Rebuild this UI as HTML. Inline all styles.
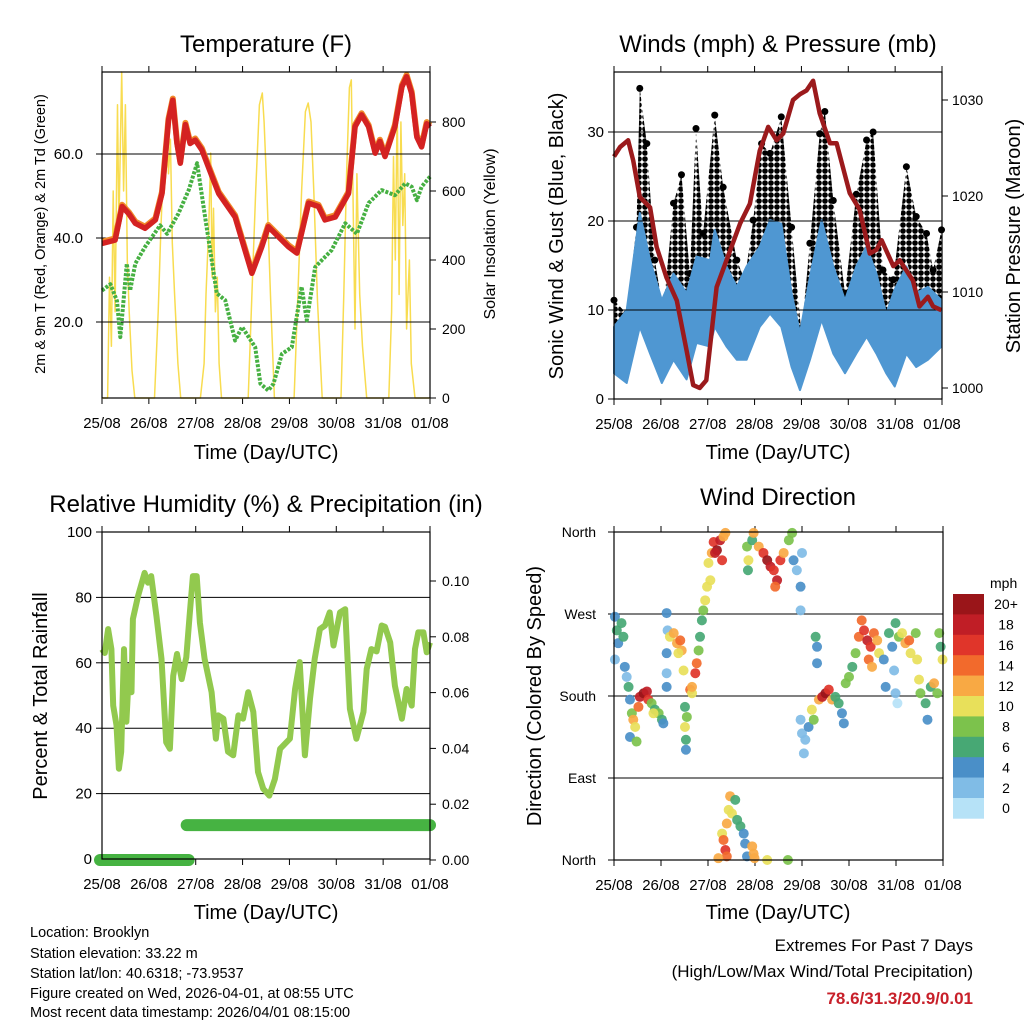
<!DOCTYPE html>
<html><head><meta charset="utf-8">
<style>
html,body{margin:0;padding:0;background:#fff;}
svg{display:block;font-family:"Liberation Sans",sans-serif;}
</style></head>
<body>
<svg id="c" width="1024" height="1024" viewBox="0 0 1024 1024">
<defs>
<pattern id="gustdots" width="6" height="6" patternUnits="userSpaceOnUse"><circle cx="3" cy="3" r="2.8" fill="#000"/></pattern>
</defs>
<g font-size="24" text-anchor="middle" fill="#000">
<text x="266" y="52">Temperature (F)</text>
<text x="778" y="52">Winds (mph) &amp; Pressure (mb)</text>
<text x="266" y="512">Relative Humidity (%) &amp; Precipitation (in)</text>
<text x="778" y="505">Wind Direction</text>
</g>
<g font-size="20" text-anchor="middle">
<text x="266" y="459">Time (Day/UTC)</text>
<text x="778" y="459">Time (Day/UTC)</text>
<text x="266" y="919">Time (Day/UTC)</text>
<text x="778" y="919">Time (Day/UTC)</text>
<text transform="translate(40,234) rotate(-90)" dy="5" font-size="14.5">2m &amp; 9m T (Red, Orange) &amp; 2m Td (Green)</text>
<text transform="translate(490,234) rotate(-90)" dy="5" font-size="16">Solar Insolation (Yellow)</text>
<text transform="translate(556,236) rotate(-90)" dy="7">Sonic Wind &amp; Gust (Blue, Black)</text>
<text transform="translate(1013,236) rotate(-90)" dy="7">Station Pressure (Maroon)</text>
<text transform="translate(40,696) rotate(-90)" dy="7">Percent &amp; Total Rainfall</text>
<text transform="translate(534,696) rotate(-90)" dy="7">Direction (Colored By Speed)</text>
</g>
<g font-size="14.5" fill="#000">
<text x="30" y="937">Location: Brooklyn</text>
<text x="30" y="958">Station elevation: 33.22 m</text>
<text x="30" y="978">Station lat/lon: 40.6318; -73.9537</text>
<text x="30" y="998">Figure created on Wed, 2026-04-01, at 08:55 UTC</text>
<text x="30" y="1017">Most recent data timestamp: 2026/04/01 08:15:00</text>
</g>
<g font-size="17" text-anchor="end">
<text x="973" y="951">Extremes For Past 7 Days</text>
<text x="973" y="977">(High/Low/Max Wind/Total Precipitation)</text>
<text x="973" y="1004" font-weight="bold" fill="#c8202a">78.6/31.3/20.9/0.01</text>
</g>
</svg>
<script>
// ---- Temperature panel data ----
const tempT=[0,0.28,0.43,0.57,0.71,0.92,1.14,1.28,1.42,1.51,1.6,1.67,1.78,1.88,1.99,2.13,2.35,2.49,2.84,3.2,3.41,3.55,3.98,4.16,4.41,4.62,4.76,4.98,5.26,5.4,5.54,5.69,5.83,5.93,6.04,6.25,6.4,6.5,6.61,6.72,6.82,6.93,7.0];
const tempV=[38.7,39.5,47.5,45.8,43.5,42.3,44.3,50.6,68,72.8,62.5,57.8,67,62.5,63.3,61,54.6,50.6,45,31.6,37.9,42.7,37.9,36.4,48.3,47.5,44.3,45,50.6,66.5,69.3,66.5,60.2,63,59.4,66.5,76,78.4,74.4,64,61.7,67.2,66.4];
const dewT=[0,0.18,0.32,0.39,0.53,0.6,0.71,0.92,1.24,1.39,1.63,1.85,2.03,2.2,2.45,2.63,2.84,2.99,3.13,3.27,3.38,3.55,3.66,3.84,4.05,4.26,4.37,4.55,4.9,5.19,5.44,5.69,5.97,6.25,6.47,6.61,6.72,6.82,7.0];
const dewV=[27.5,29,25,16.4,33.9,27.5,33.9,37.9,43,41,45.8,51.4,57.8,45,26.8,25.2,15.6,18.8,16.4,14,5.3,3.7,5.3,12.4,14,28.4,20.4,33.1,37.1,43.5,41,48.3,51.4,50.2,53,52.2,49,52.2,54.6];
const solarT=[0,0.12,0.16,0.2,0.24,0.28,0.33,0.36,0.42,0.46,0.5,0.54,0.58,0.64,0.7,1.12,1.2,1.26,1.32,1.38,1.42,1.46,1.5,1.55,1.62,1.68,2.1,2.18,2.22,2.28,2.32,2.35,2.38,2.42,2.46,2.5,2.55,3.12,3.2,3.28,3.36,3.42,3.46,3.52,3.6,3.68,4.1,4.18,4.26,4.34,4.4,4.46,4.52,4.6,4.7,5.1,5.16,5.22,5.28,5.32,5.36,5.4,5.44,5.5,5.56,5.65,6.12,6.18,6.22,6.26,6.3,6.34,6.38,6.42,6.46,6.5,6.56,6.6,6.68,7.0];
const solarV=[0,0,350,150,600,250,850,500,945,600,850,400,250,80,0,0,250,500,700,806,650,750,450,300,100,0,0,100,300,500,710,350,550,250,350,100,0,0,300,600,850,884,800,600,280,0,0,300,600,830,855,800,600,280,0,0,300,650,900,922,550,200,650,300,150,0,0,250,700,400,850,300,800,500,650,200,400,100,0,0];
const tempTicks=[20,40,60];
const solarTicks=[0,200,400,600,800];
const dayLabels=["25/08","26/08","27/08","28/08","29/08","30/08","31/08","01/08"];
// ---- Winds panel data ----
const windT=[0,0.27,0.55,0.77,1.02,1.27,1.55,1.76,2.05,2.15,2.4,2.62,2.83,3.11,3.33,3.57,3.79,3.97,4.18,4.43,4.68,4.93,5.17,5.39,5.6,5.81,5.99,6.24,6.45,6.7,6.99];
const windLow=[2.9,1.8,8.1,5.1,1.8,4.4,2.2,6.3,5.9,8.1,5.9,4.4,4.4,8.1,9.6,8.1,3.6,1,4.4,8.9,5.1,2.9,5.1,7,5.1,2.9,1.4,5.1,3.6,4.4,5.9];
const windHigh=[8.1,10,20.9,15.6,11.1,14.1,11.9,16,15.6,19,14.9,12.6,14.9,17.1,20.1,19.7,11.9,7.4,13.7,20.1,14.9,11.1,14.9,17.1,14.1,9.6,12.3,14.9,11.9,12.6,11.1];
const gustT=[0,0.27,0.48,0.55,0.7,0.87,1.05,1.27,1.44,1.62,1.75,1.9,2.15,2.33,2.62,2.79,2.97,3.15,3.33,3.57,3.79,4.0,4.18,4.39,4.5,4.68,4.93,5.17,5.39,5.53,5.74,5.96,6.24,6.45,6.67,6.81,6.99];
const gustLow=[5.1,5.9,11.9,15.6,11.9,8.1,5.1,9.6,10.7,7.4,14.1,9.6,15.6,11.9,8.5,7.4,11.9,15.6,17.1,15.6,8.5,3.6,8.5,17.1,15.6,11.9,7.4,11.9,14.1,13.4,7,7,15.6,11.9,9.6,8.1,8.5];
const gustHigh=[11.1,9.6,19.3,34.9,28.7,15.6,10,22,25.2,14.1,30.4,18.6,31.9,23.8,15.6,13.4,20.1,28.7,27.6,31.7,19.3,7.4,17.5,29.8,32.3,22.3,11.9,23,29.1,30,14.5,13.4,26.1,20.5,18.6,14.5,19];
const presT=[0,0.13,0.3,0.41,0.55,0.77,0.91,1.12,1.34,1.55,1.69,1.83,1.97,2.19,2.4,2.69,2.9,3.11,3.29,3.47,3.61,3.82,3.97,4.11,4.25,4.39,4.61,4.75,5.03,5.24,5.46,5.6,5.71,5.96,6.1,6.38,6.52,6.7,6.81,6.99];
const presV=[1024.1,1025.1,1025.8,1023.7,1019.9,1018.8,1014.7,1011.5,1009.1,1003.9,1000.3,1000,1000.8,1010.5,1013.3,1017.1,1019.2,1024.7,1027.2,1025.8,1026.5,1030,1030.6,1031,1032,1028.6,1025.5,1025.5,1020.3,1018.6,1014,1014.4,1015.4,1012.7,1013.3,1011.2,1008.5,1009.5,1008.5,1008.1];
const windTicks=[0,10,20,30];
const presTicks=[1000,1010,1020,1030];
// ---- RH panel data ----
const rhT=[0,0.06,0.13,0.2,0.24,0.31,0.36,0.41,0.47,0.52,0.58,0.63,0.66,0.77,0.91,0.98,1.05,1.16,1.27,1.37,1.45,1.52,1.6,1.7,1.8,1.87,1.94,2.02,2.09,2.19,2.34,2.43,2.48,2.59,2.69,2.8,2.91,3.01,3.12,3.23,3.33,3.44,3.57,3.69,3.8,4.01,4.12,4.22,4.33,4.44,4.54,4.65,4.76,4.86,4.94,5.08,5.19,5.29,5.43,5.58,5.65,5.75,5.86,5.97,6.04,6.15,6.25,6.4,6.5,6.61,6.68,6.75,6.86,6.93,7.0];
const rhV=[64.2,63,70.3,64.2,46.9,40.9,27.6,32.8,64.2,42,59,51,73.4,80.5,87.5,84.5,86.5,74.4,61.2,35.7,33.7,56,62.7,55,61.7,74.4,86.5,86.5,72.3,61.2,51,36.8,43.9,42.9,32.8,31.7,43.9,42.9,51,45,26.6,21.5,19.4,24.5,33.7,36.8,52,60.2,31.7,49,61.2,70.3,71.4,75.4,65.3,75.4,76.4,45.9,36.8,45,58.1,64.2,63.5,71.4,71,66.2,53,42.9,52,46.9,64.2,69.3,69.3,63.2,66.2];
const precipT=[0,1.85,1.85,7.0];
const precipV=[0,0,0.0125,0.0125];
const rhTicks=[0,20,40,60,80,100];
const precipTicks=["0.00","0.02","0.04","0.06","0.08","0.10"];
// ---- Wind direction data ----
const dirT=[0.02,0.06,0.09,0.16,0.2,0.02,0.23,0.27,0.31,0.34,0.38,0.41,0.45,0.34,0.48,0.52,0.55,0.63,0.7,0.73,0.8,0.87,0.95,1.02,1.05,0.84,1.12,1.14,1.12,1.12,1.12,1.19,1.27,1.34,1.41,1.44,1.48,1.37,1.51,1.55,1.51,1.53,1.53,1.62,1.66,1.66,1.73,1.76,1.8,1.83,1.87,1.9,1.94,1.98,2.05,2.01,2.08,2.12,2.19,2.26,2.33,2.3,2.15,2.37,2.83,2.86,2.85,2.94,2.97,3.08,3.18,3.26,3.33,3.4,3.47,3.43,3.54,3.61,3.72,3.79,3.82,3.89,3.97,4.0,3.97,2.3,2.33,2.37,2.4,2.4,2.44,2.47,2.51,2.58,2.62,2.69,2.76,2.79,2.83,2.94,2.97,2.99,3.26,3.7,2.22,3.97,4.0,4.04,4.07,4.14,4.21,4.25,4.29,4.32,4.32,4.36,4.43,4.5,4.57,4.64,4.71,4.78,4.85,4.89,4.93,5.0,5.07,5.14,5.21,5.27,5.32,5.39,5.46,5.53,5.6,5.64,5.42,5.49,5.74,5.78,5.85,5.92,5.96,5.99,6.06,6.13,6.2,6.28,6.31,5.99,6.03,6.42,6.45,6.49,6.52,6.63,6.67,6.74,6.81,6.88,6.92,6.95,6.99];
const dirV=[267,252,238,260,245,220,212,201,190,176,161,154,146,135,130,168,179,183,185,176,172,165,161,154,150,161,271,252,227,205,190,245,249,238,241,230,208,227,168,157,146,132,121,187,183,190,205,216,230,245,263,274,285,300,307,326,337,349,340,351,355,329,337,359,344,329,318,351,359,344,337,329,322,318,307,300,329,337,351,359,329,318,300,337,274,29,22,11,4,40,55,70,51,66,44,37,29,18,4,15,7,2,0,0,2,154,139,117,132,146,165,154,245,234,216,176,179,183,187,176,179,172,161,150,194,201,212,227,245,263,252,241,234,249,241,227,220,212,220,190,249,234,208,260,245,249,238,241,227,183,172,249,220,198,183,172,154,190,194,183,249,234,220];
const dirSpd=[5,6,4,7,6,3,4,3,6,5,8,12,10,4,9,15,18,20,18,16,8,6,8,6,4,10,4,3,5,3,4,10,13,12,14,12,10,11,6,8,10,6,5,14,10,12,16,14,8,7,6,8,10,10,10,11,12,16,20,18,12,16,19,12,8,10,7,6,12,12,16,20,18,16,18,14,16,12,8,8,4,3,4,2,2,11,14,16,14,12,10,13,10,7,6,6,5,4,4,12,13,12,10,8,12,3,2,2,3,5,10,8,7,4,5,12,18,20,16,12,7,6,5,4,8,8,7,8,14,15,16,18,16,14,12,11,14,12,4,4,6,5,3,7,8,10,12,14,10,2,1,8,10,10,8,6,4,6,12,8,9,7,10];
const dirTicks=["North","East","South","West","North"];
const speedLabels=["0","2","4","6","8","10","12","14","16","18","20+"];
const speedColors=["#b6e2f7","#80bce6","#4a8fc8","#47a874","#7cc24c","#e8e05a","#f8a944","#f26a2c","#e0352a","#c01e26","#9a1519"];

const NS="http://www.w3.org/2000/svg";
const svg=document.getElementById('c');
function mk(tag,attrs,parent){const e=document.createElementNS(NS,tag);for(const k in attrs)e.setAttribute(k,attrs[k]);(parent||svg).appendChild(e);return e;}
function pathD(xs,ys,fx,fy){return xs.map((t,i)=>(i?'L':'M')+fx(t).toFixed(1)+','+fy(ys[i]).toFixed(1)).join('');}

function frame(x0,y0,x1,y1,name){
  const g=mk('g',{});
  
  
  const fx=t=>x0+(x1-x0)*t/7;
  for(let i=0;i<=7;i++){
    const x=fx(i);
    const tk=mk('line',{x1:x,x2:x,y1:y1,y2:y1+6,stroke:'#000','stroke-width':1},g);
    
    
    mk('line',{x1:x,x2:x,y1:y0,y2:y0-6,stroke:'#000','stroke-width':1},g);
    const lb=mk('text',{x:x,y:y1+30,'font-size':15,'text-anchor':'middle'},g);
    lb.textContent=dayLabels[i];
    
    
  }
  return {g,fx};
}
function border(x0,y0,x1,y1){const r=mk('rect',{x:x0,y:y0,width:x1-x0,height:y1-y0,fill:'none',stroke:'#000','stroke-width':1.2});

}
function hgrid(x0,x1,y,g){const l=mk('line',{x1:x0,x2:x1,y1:y,y2:y,stroke:'#000','stroke-width':1},g);

}
function ylab(x,y,txt,anchor,g,fs){const t=mk('text',{x:x,y:y+5,'font-size':fs||15,'text-anchor':anchor},g);t.textContent=txt;

return t;}

// ===== Panel 1: Temperature =====
(function(){
  const x0=102,y0=72,x1=430,y1=398;
  const {g,fx}=frame(x0,y0,x1,y1,'temperature-panel');
  const fy=v=>406-v*4.2, fs=v=>398-v*69/200;
  const sol=mk('path',{d:pathD(solarT,solarV,fx,fs),fill:'none',stroke:'#f8dc50','stroke-width':1.5,'stroke-linejoin':'round'},g);
  
  
  tempTicks.forEach(v=>{hgrid(x0,x1,fy(v),g);ylab(x0-19,fy(v),v.toFixed(1),'end',g);mk('line',{x1:x0-6,x2:x0,y1:fy(v),y2:fy(v),stroke:'#000'},g);});
  solarTicks.forEach(v=>{ylab(x1+12,fs(v),String(v),'start',g,14);mk('line',{x1:x1,x2:x1+6,y1:fs(v),y2:fs(v),stroke:'#000'},g);});
  const dw=mk('path',{d:pathD(dewT,dewV,fx,fy),fill:'none',stroke:'#46b042','stroke-width':4,'stroke-dasharray':'3 1.5','stroke-linejoin':'round'},g);
  
  
  const t9=mk('path',{d:pathD(tempT,tempV.map(v=>v+0.4),fx,fy),fill:'none',stroke:'#f08a2a','stroke-width':6,'stroke-linejoin':'round'},g);
  
  
  const t2=mk('path',{d:pathD(tempT,tempV,fx,fy),fill:'none',stroke:'#d42222','stroke-width':5.5,'stroke-linejoin':'round'},g);
  
  
  border(x0,y0,x1,y1);
})();

// ===== Panel 2: Winds =====
(function(){
  const x0=614,y0=72,x1=942,y1=399;
  const {g,fx}=frame(x0,y0,x1,y1,'winds-panel');
  const fy=v=>399-v*8.9, fp=p=>388-(p-1000)*9.6;
  const gp=mk('path',{d:pathD(gustT,gustHigh,fx,fy)+pathD(gustT.slice().reverse(),gustLow.slice().reverse(),fx,fy).replace('M','L')+'Z',fill:'url(#gustdots)',stroke:'none'},g);
  
  
  gustT.forEach((t,i)=>{const c=mk('circle',{cx:fx(t),cy:fy(gustHigh[i]),r:3.5,fill:'#000'},g);
  
  });
  const bp=mk('path',{d:pathD(windT,windHigh,fx,fy)+pathD(windT.slice().reverse(),windLow.slice().reverse(),fx,fy).replace('M','L')+'Z',fill:'#4f97d2',stroke:'#4f97d2','stroke-width':2,'stroke-linejoin':'round'},g);
  
  
  windTicks.forEach(v=>{if(v>0)hgrid(x0,x1,fy(v),g);ylab(x0-10,fy(v),String(v),'end',g);mk('line',{x1:x0-6,x2:x0,y1:fy(v),y2:fy(v),stroke:'#000'},g);});
  presTicks.forEach(v=>{ylab(x1+10,fp(v),String(v),'start',g,14);mk('line',{x1:x1,x2:x1+6,y1:fp(v),y2:fp(v),stroke:'#000'},g);});
  const pr=mk('path',{d:pathD(presT,presV,fx,fp),fill:'none',stroke:'#9b1a1c','stroke-width':4.5,'stroke-linejoin':'round'},g);
  
  
  border(x0,y0,x1,y1);
})();

// ===== Panel 3: RH & Precip =====
(function(){
  const x0=102,y0=532,x1=430,y1=859;
  const {g,fx}=frame(x0,y0,x1,y1,'humidity-panel');
  const fy=v=>859-v*3.27, fp=v=>860-v*55.8/0.02;
  rhTicks.forEach(v=>{if(v>0&&v<100)hgrid(x0,x1,fy(v),g);ylab(x0-10,fy(v),String(v),'end',g);mk('line',{x1:x0-6,x2:x0,y1:fy(v),y2:fy(v),stroke:'#000'},g);});
  precipTicks.forEach(s=>{const v=parseFloat(s);ylab(x1+12,fp(v),s,'start',g,14);mk('line',{x1:x1,x2:x1+6,y1:fp(v),y2:fp(v),stroke:'#000'},g);});
  const rh=mk('path',{d:pathD(rhT,rhV,fx,fy),fill:'none',stroke:'#92c94e','stroke-width':6,'stroke-linejoin':'round'},g);
  
  
  for(let i=0;i<precipT.length-1;i++){
    if(precipV[i]!==precipV[i+1])continue;
    const s=mk('line',{x1:fx(precipT[i])-2,x2:fx(precipT[i+1]),y1:fp(precipV[i]),y2:fp(precipV[i]),stroke:'#46b342','stroke-width':12,'stroke-linecap':'round'},g);
    
    
  }
  border(x0,y0,x1,y1);
})();

// ===== Panel 4: Wind direction =====
(function(){
  const x0=614,y0=532,x1=943,y1=860;
  const {g,fx}=frame(x0,y0,x1,y1,'wind-direction-panel');
  const fy=d=>y1-d*(y1-y0)/360;
  dirTicks.forEach((s,i)=>{const y=fy(i*90);hgrid(x0,x1,y,g);ylab(x0-18,y,s,'end',g,14);mk('line',{x1:x0-6,x2:x0,y1:y,y2:y,stroke:'#000'},g);});
  dirT.forEach((t,i)=>{
    const b=Math.min(10,Math.floor(dirSpd[i]/2));
    const c=mk('circle',{cx:fx(t),cy:fy(dirV[i]),r:5,fill:speedColors[b],'fill-opacity':0.92},g);
    
    
  });
  border(x0,y0,x1,y1);
  const cb=mk('g',{});
  
  
  const h=20.4;
  const ttl=mk('text',{x:990,y:588,'font-size':14},cb);ttl.textContent='mph';
  
  
  for(let k=0;k<11;k++){
    const idx=10-k,y=594+k*h;
    const r=mk('rect',{x:953,y:y,width:31,height:h+0.3,fill:speedColors[idx]},cb);
    
    
    const t=mk('text',{x:1006,y:y+h/2+5,'font-size':14,'text-anchor':'middle'},cb);t.textContent=speedLabels[idx];
    
    
  }
})();
</script>
</body></html>
